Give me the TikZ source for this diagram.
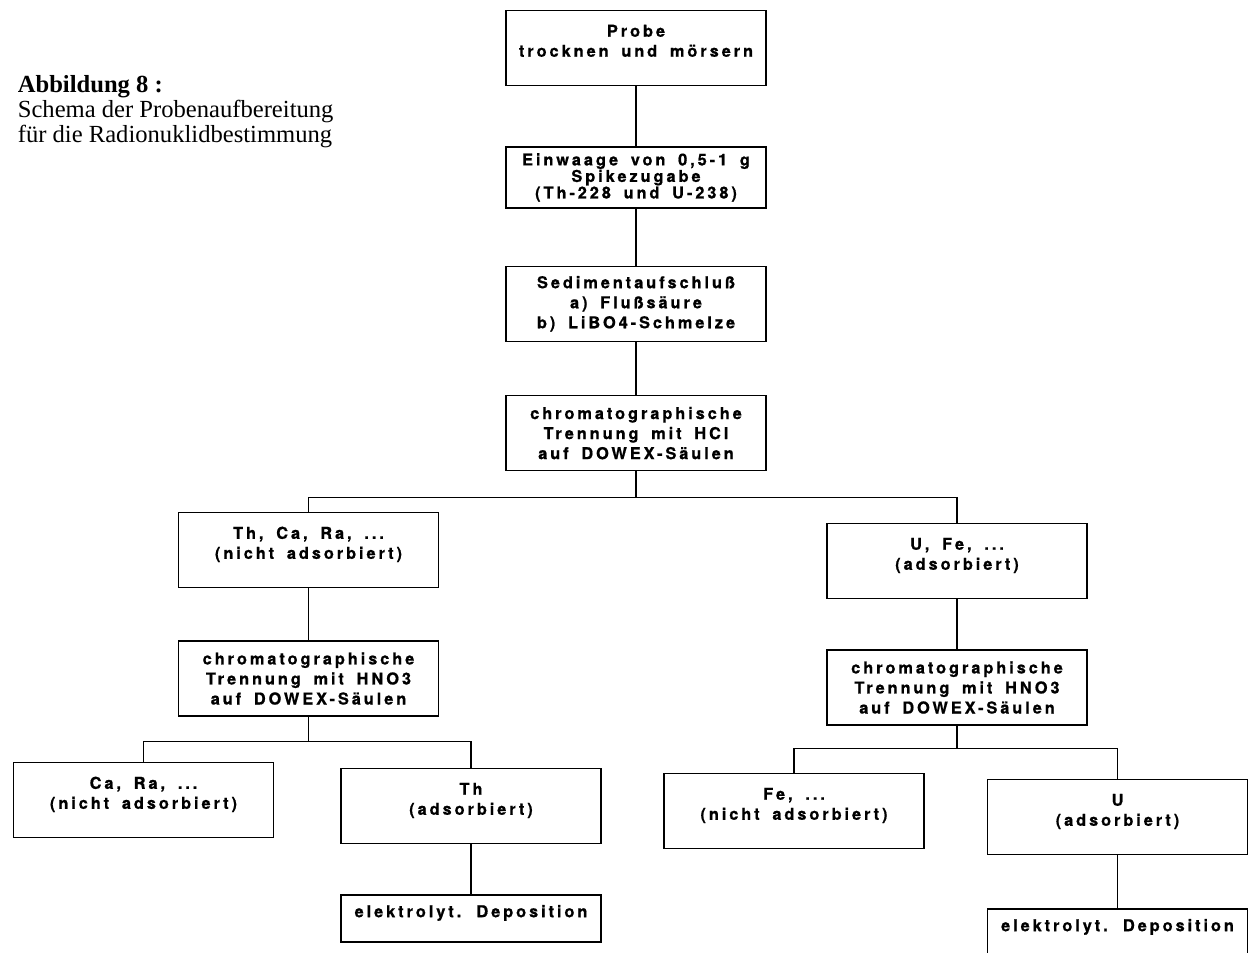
\documentclass[tikz,border=0pt]{standalone}
\usepackage{fontspec}
\usepackage{tikz}
\usetikzlibrary{positioning}
\setmainfont{Liberation Serif}
\newfontfamily\boxfont[LetterSpace=18, WordSpace=1.7, BoldFeatures={FakeBold=0.8}]{TeX Gyre Heros}

\begin{document}
\begin{tikzpicture}[
  node distance=1cm,
  every node/.style={font=\boxfont\bfseries\fontsize{9.3}{11.4}\selectfont},
  box/.style={draw, line width=0.75pt, minimum width=5.2cm, minimum height=1.5cm, align=center, inner sep=2pt},
  depbox/.style={box, minimum height=0.94cm},
  conn/.style={line width=0.75pt}
]
\useasboundingbox (0,0) rectangle (24.98,-19.06);

\node[anchor=north west, align=left, inner sep=0pt, font=\normalfont\fontsize{14}{14.2}\selectfont] (caption) at (0.35,-1.5)
  {\textbf{Abbildung 8 :}\\Schema der Probenaufbereitung\\für die Radionuklidbestimmung};

\node[box, anchor=north] (probe) at (12.72,-0.2) {Probe\\trocknen und mörsern\\[-3pt]\mbox{}};
\node[box, minimum height=1.22cm, below=1.2cm of probe, font=\boxfont\bfseries\fontsize{9.3}{9.4}\selectfont] (einwaage) {Einwaage von 0,5-1 g\\Spikezugabe\\(Th-228 und U-238)};
\node[box, below=1.14cm of einwaage] (aufschluss) {Sedimentaufschluß\\a) Flußsäure\\b) LiBO4-Schmelze};
\node[box, below=1.06cm of aufschluss] (hcl) {chromatographische\\Trennung mit HCl\\auf DOWEX-Säulen};

\node[box, anchor=north] (thca) at (6.17,-10.24) {Th, Ca, Ra, ...\\(nicht adsorbiert)\\[-3pt]\mbox{}};
\node[box, below=1.04cm of thca] (hnoL) {chromatographische\\Trennung mit HNO3\\auf DOWEX-Säulen};
\node[box, anchor=north] (cara) at (2.87,-15.24) {Ca, Ra, ...\\(nicht adsorbiert)\\[-3pt]\mbox{}};
\node[box, anchor=north] (th) at (9.42,-15.36) {Th\\(adsorbiert)\\[-3pt]\mbox{}};
\node[depbox, below=1cm of th] (depL) {elektrolyt. Deposition\\[-3pt]\mbox{}};

\node[box, anchor=north] (ufe) at (19.14,-10.46) {U, Fe, ...\\(adsorbiert)\\[-3pt]\mbox{}};
\node[box, below=1cm of ufe] (hnoR) {chromatographische\\Trennung mit HNO3\\auf DOWEX-Säulen};
\node[box, anchor=north] (fe) at (15.88,-15.46) {Fe, ...\\(nicht adsorbiert)\\[-3pt]\mbox{}};
\node[box, anchor=north] (u) at (22.35,-15.58) {U\\(adsorbiert)\\[-3pt]\mbox{}};
\node[depbox, below=1.06cm of u] (depR) {elektrolyt. Deposition\\[-3pt]\mbox{}};

\draw[conn] (probe) -- (einwaage);
\draw[conn] (einwaage) -- (aufschluss);
\draw[conn] (aufschluss) -- (hcl);
\draw[conn] (hcl.south) -- ++(0,-0.52) coordinate (split) -| (thca.north);
\draw[conn] (split) -| (ufe.north);
\draw[conn] (thca) -- (hnoL);
\draw[conn] (ufe) -- (hnoR);
\draw[conn] (hnoL.south) -- ++(0,-0.5) coordinate (splitL) -| (cara.north);
\draw[conn] (splitL) -| (th.north);
\draw[conn] (th) -- (depL);
\draw[conn] (hnoR.south) -- ++(0,-0.46) coordinate (splitR) -| (fe.north);
\draw[conn] (splitR) -| (u.north);
\draw[conn] (u) -- (depR);
\end{tikzpicture}
\end{document}
